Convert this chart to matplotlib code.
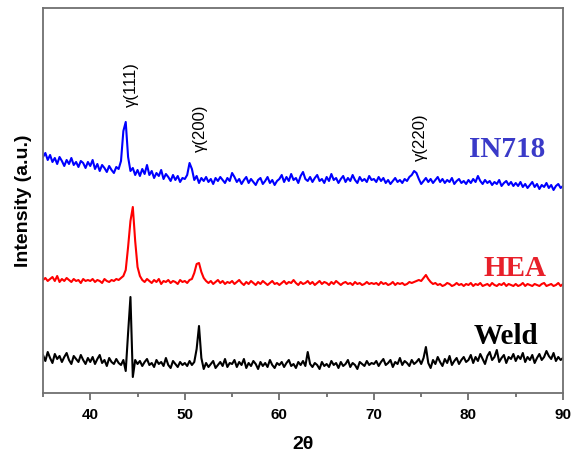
import numpy as np
import matplotlib
matplotlib.use("Agg")
import matplotlib.pyplot as plt
from matplotlib.ticker import MultipleLocator

# 2-theta sampling (degrees), 0.25 deg steps from 35 to 90
two_theta = np.arange(35, 90.001, 0.25)

# intensities (a.u., already stacked)
in718 = [
    236, 240, 233, 238, 231, 235, 229, 236, 232, 227, 233, 229, 235, 228, 231, 226, 232, 230, 225, 231,
    227, 233, 224, 229, 222, 228, 225, 221, 227, 223, 220, 226, 224, 232, 262, 271, 236, 222, 225, 218,
    223, 217, 224, 219, 228, 218, 222, 215, 220, 217, 223, 214, 219, 216, 212, 218, 213, 217, 211, 215,
    214, 218, 230, 224, 213, 217, 210, 215, 212, 216, 211, 214, 209, 215, 212, 216, 213, 210, 215, 212,
    220, 216, 211, 214, 209, 213, 216, 210, 214, 211, 208, 213, 215, 209, 212, 216, 210, 213, 208, 212,
    214, 218, 211, 216, 212, 219, 213, 215, 210, 217, 221, 214, 212, 216, 211, 215, 218, 212, 214, 210,
    216, 212, 219, 213, 215, 210, 214, 217, 211, 215, 212, 218, 213, 210, 216, 212, 214, 211, 217, 213,
    214, 211, 216, 212, 215, 210, 213, 209, 212, 215, 211, 213, 210, 214, 212, 216, 218, 222, 220, 214,
    209, 212, 215, 211, 214, 210, 213, 216, 211, 214, 210, 213, 211, 215, 209, 212, 214, 210, 212, 209,
    213, 210, 214, 211, 217, 212, 209, 213, 210, 212, 208, 211, 209, 213, 207, 210, 212, 208, 211, 207,
    210, 207, 211, 206, 209, 205, 208, 211, 206, 209, 204, 208, 206, 210, 205, 208, 203, 207, 209, 205, 207,
]

hea = [
    113, 115, 112, 114, 116, 112, 117, 111, 114, 112, 115, 113, 111, 114, 112, 113, 110, 114, 112, 113,
    112, 114, 111, 113, 112, 110, 114, 112, 111, 113, 112, 114, 113, 115, 117, 123, 146, 172, 186, 152,
    126, 117, 113, 111, 114, 112, 110, 113, 111, 114, 109, 112, 111, 113, 110, 112, 111, 109, 113, 111,
    112, 110, 113, 114, 120, 129, 130, 121, 115, 112, 110, 112, 109, 111, 113, 110, 112, 109, 111, 110,
    112, 109, 111, 113, 110, 108, 111, 109, 112, 110, 108, 111, 109, 112, 110, 108, 110, 112, 109, 110,
    108, 110, 112, 109, 111, 110, 113, 110, 108, 111, 109, 110, 112, 109, 111, 108, 110, 112, 109, 111,
    110, 108, 111, 109, 112, 110, 108, 110, 111, 109, 110, 108, 111, 109, 110, 108, 109, 111, 109, 110,
    109, 110, 108, 111, 109, 110, 108, 109, 111, 108, 110, 109, 110, 108, 109, 111, 110, 111, 112, 113,
    112, 115, 118, 114, 111, 109, 110, 108, 109, 107, 108, 110, 109, 107, 108, 110, 108, 109, 107, 109,
    108, 110, 107, 109, 108, 110, 107, 108, 109, 107, 110, 108, 107, 109, 108, 110, 107, 109, 108, 107,
    109, 107, 108, 110, 107, 109, 108, 107, 109, 108, 107, 109, 110, 107, 108, 109, 107, 108, 110, 107, 109,
]

weld = [
    38, 32, 41, 35, 30, 39, 34, 37, 31, 36, 40, 33, 29, 37, 34, 31, 38, 33, 29, 35,
    31, 36, 29, 34, 38, 30, 33, 27, 35, 31, 29, 34, 30, 28, 33, 22, 60, 96, 16, 33,
    29, 32, 27, 31, 34, 28, 30, 26, 33, 29, 31, 27, 35, 28, 25, 32, 29, 26, 31, 28,
    30, 27, 32, 28, 31, 44, 67, 35, 24, 30, 26, 29, 32, 25, 28, 31, 27, 34, 26, 30,
    29, 33, 26, 31, 28, 34, 25, 30, 27, 32, 29, 24, 31, 27, 30, 26, 33, 28, 25, 30,
    28, 31, 26, 30, 33, 27, 29, 25, 31, 28, 32, 27, 41, 29, 26, 30, 28, 24, 31, 27,
    29, 26, 32, 28, 30, 25, 31, 27, 29, 33, 26, 30, 28, 24, 31, 29, 27, 32, 28, 30,
    29, 32, 27, 31, 34, 28, 30, 33, 26, 31, 29, 35, 28, 32, 30, 27, 33, 29, 31, 34,
    29, 35, 46, 30, 25, 33, 29, 36, 31, 27, 34, 30, 37, 28, 32, 35, 29, 33, 36, 31,
    33, 38, 30, 36, 32, 39, 34, 29, 37, 41, 33, 36, 43, 31, 35, 38, 30, 36, 34, 39,
    32, 37, 34, 40, 31, 36, 33, 38, 30, 35, 39, 33, 36, 42, 37, 34, 40, 32, 36, 33, 35,
]

# peak labels: (text, 2theta, height)
peak_labels = [("γ(111)", 44.4, 308), ("γ(200)", 51.6, 265), ("γ(220)", 74.9, 256)]

fig = plt.figure(figsize=(5.71, 4.59), dpi=100)
ax = fig.add_axes([0.0753, 0.1438, 0.9107, 0.8388])

ax.plot(two_theta, in718, color="#0000ff", lw=1.5)
ax.plot(two_theta, hea, color="#ff0000", lw=1.5)
ax.plot(two_theta, weld, color="black", lw=1.5)

for txt, xx, yy in peak_labels:
    ax.text(xx, yy, txt, rotation=90, ha="center", va="center",
            fontsize=12, family="Liberation Sans")

ax.text(84.1, 243.5, "IN718", color="#3a3ac8", fontsize=21, fontweight="bold",
        family="Liberation Serif", ha="center", va="center")
ax.text(84.95, 124, "HEA", color="#e8202a", fontsize=21, fontweight="bold",
        family="Liberation Serif", ha="center", va="center")
ax.text(84.0, 56, "Weld", color="black", fontsize=21, fontweight="bold",
        family="Liberation Serif", ha="center", va="center")

ax.set_xlim(35, 90)
ax.set_ylim(0, 385)
ax.xaxis.set_major_locator(MultipleLocator(10))
ax.xaxis.set_minor_locator(MultipleLocator(5))
ax.set_yticks([])
ax.tick_params(axis="x", which="major", direction="out", length=5, width=1.2,
               color="#606060", pad=6)
ax.tick_params(axis="x", which="minor", direction="out", length=3, width=1.2,
               color="#606060")
for lab in ax.get_xticklabels():
    lab.set_fontfamily("Liberation Sans")
    lab.set_fontweight("bold")
    lab.set_fontsize(11)
for sp in ax.spines.values():
    sp.set_color("#707070")
    sp.set_linewidth(1.3)

ax.set_xlabel("2θ", fontsize=14, fontweight="bold", family="Liberation Sans", labelpad=10)
ax.set_ylabel("Intensity (a.u.)", fontsize=14, fontweight="bold", family="Liberation Sans",
              labelpad=8)

fig.savefig("out.png", dpi=100)
plt.close(fig)
